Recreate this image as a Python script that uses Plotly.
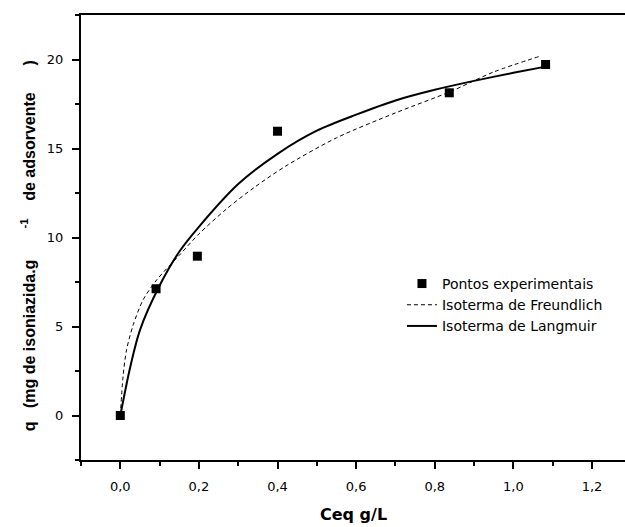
import plotly.graph_objects as go

# Experimental points
ceq_exp = [0.0, 0.091, 0.196, 0.400, 0.837, 1.082]
q_exp = [0.0, 7.12, 8.95, 15.97, 18.13, 19.72]

# Freundlich isotherm curve
ceq_freund = [0.0, 0.007, 0.016, 0.033, 0.058, 0.092, 0.15, 0.20, 0.27, 0.34, 0.42, 0.55, 0.70, 0.84, 0.95, 1.07]
q_freund = [0.0, 2.2, 3.7, 5.1, 6.5, 7.6, 9.0, 10.2, 11.6, 12.8, 14.0, 15.6, 17.0, 18.2, 19.3, 20.2]

# Langmuir isotherm curve
ceq_lang = [0.0, 0.025, 0.05, 0.10, 0.15, 0.20, 0.30, 0.40, 0.50, 0.60, 0.70, 0.80, 0.90, 1.00, 1.082]
q_lang = [0.0, 2.7, 4.8, 7.3, 9.2, 10.6, 13.0, 14.7, 16.0, 16.9, 17.7, 18.3, 18.8, 19.25, 19.6]

x_ticks = [0.0, 0.2, 0.4, 0.6, 0.8, 1.0, 1.2]
y_ticks = [0, 5, 10, 15, 20]

WIDE = "DejaVu Sans, Verdana, sans-serif"
NARROW = "Liberation Sans, Arial, sans-serif"

fig = go.Figure()
fig.add_trace(go.Scatter(
    x=ceq_freund, y=q_freund, mode="lines", name="Isoterma de Freundlich",
    line=dict(color="black", width=1, dash="4px,3px", shape="spline", smoothing=0.8),
    legendrank=2,
))
fig.add_trace(go.Scatter(
    x=ceq_lang, y=q_lang, mode="lines", name="Isoterma de Langmuir",
    line=dict(color="black", width=2, shape="spline", smoothing=0.8),
    legendrank=3,
))
fig.add_trace(go.Scatter(
    x=ceq_exp, y=q_exp, mode="markers", name="Pontos experimentais",
    marker=dict(symbol="square", size=9, color="black"),
    legendrank=1,
))

axis_common = dict(
    showline=True, linecolor="black", linewidth=2,
    ticks="outside", ticklen=7, tickwidth=2, tickcolor="black",
    showgrid=False, zeroline=False,
    tickfont=dict(family=WIDE, size=13, color="black"),
)

fig.update_xaxes(
    range=[-0.1, 1.284], tickvals=x_ticks, tickformat=".1f", mirror=True,
    minor=dict(dtick=0.1, tick0=0, ticks="outside", ticklen=4, tickwidth=2, tickcolor="black"),
    ticklabelstandoff=6,
    **axis_common,
)
fig.update_yaxes(
    range=[-2.5, 22.5], tickvals=y_ticks, mirror=False,
    minor=dict(dtick=2.5, tick0=0, ticks="outside", ticklen=4, tickwidth=2, tickcolor="black"),
    ticklabelstandoff=6,
    **axis_common,
)

NB = "\u00a0"
fig.add_annotation(
    xref="paper", yref="paper", x=0.5, y=-0.123, xanchor="center", yanchor="middle",
    text="<b>Ceq g/L</b>", showarrow=False,
    font=dict(family=WIDE, size=16, color="black"),
)
fig.add_annotation(
    xref="paper", yref="paper", x=-0.098, y=0.482, xanchor="center", yanchor="middle",
    textangle=-90,
    text=("<b>q" + NB * 3 + "(mg de isoniazida.g" + NB * 7 + "<sup>-1</sup>" + NB * 4
          + "de adsorvente" + NB * 6 + ")</b>"),
    showarrow=False,
    font=dict(family=NARROW, size=16, color="black"),
)

fig.update_layout(
    width=625, height=527,
    margin=dict(l=81, r=0, t=15, b=67),
    paper_bgcolor="white", plot_bgcolor="white",
    separators=",.",
    showlegend=True,
    legend=dict(
        x=0.59, y=0.4316, xanchor="left", yanchor="top",
        bgcolor="rgba(0,0,0,0)", borderwidth=0,
        font=dict(family=WIDE, size=14, color="black"),
        tracegroupgap=0,
    ),
)

fig.write_html("out.html")
